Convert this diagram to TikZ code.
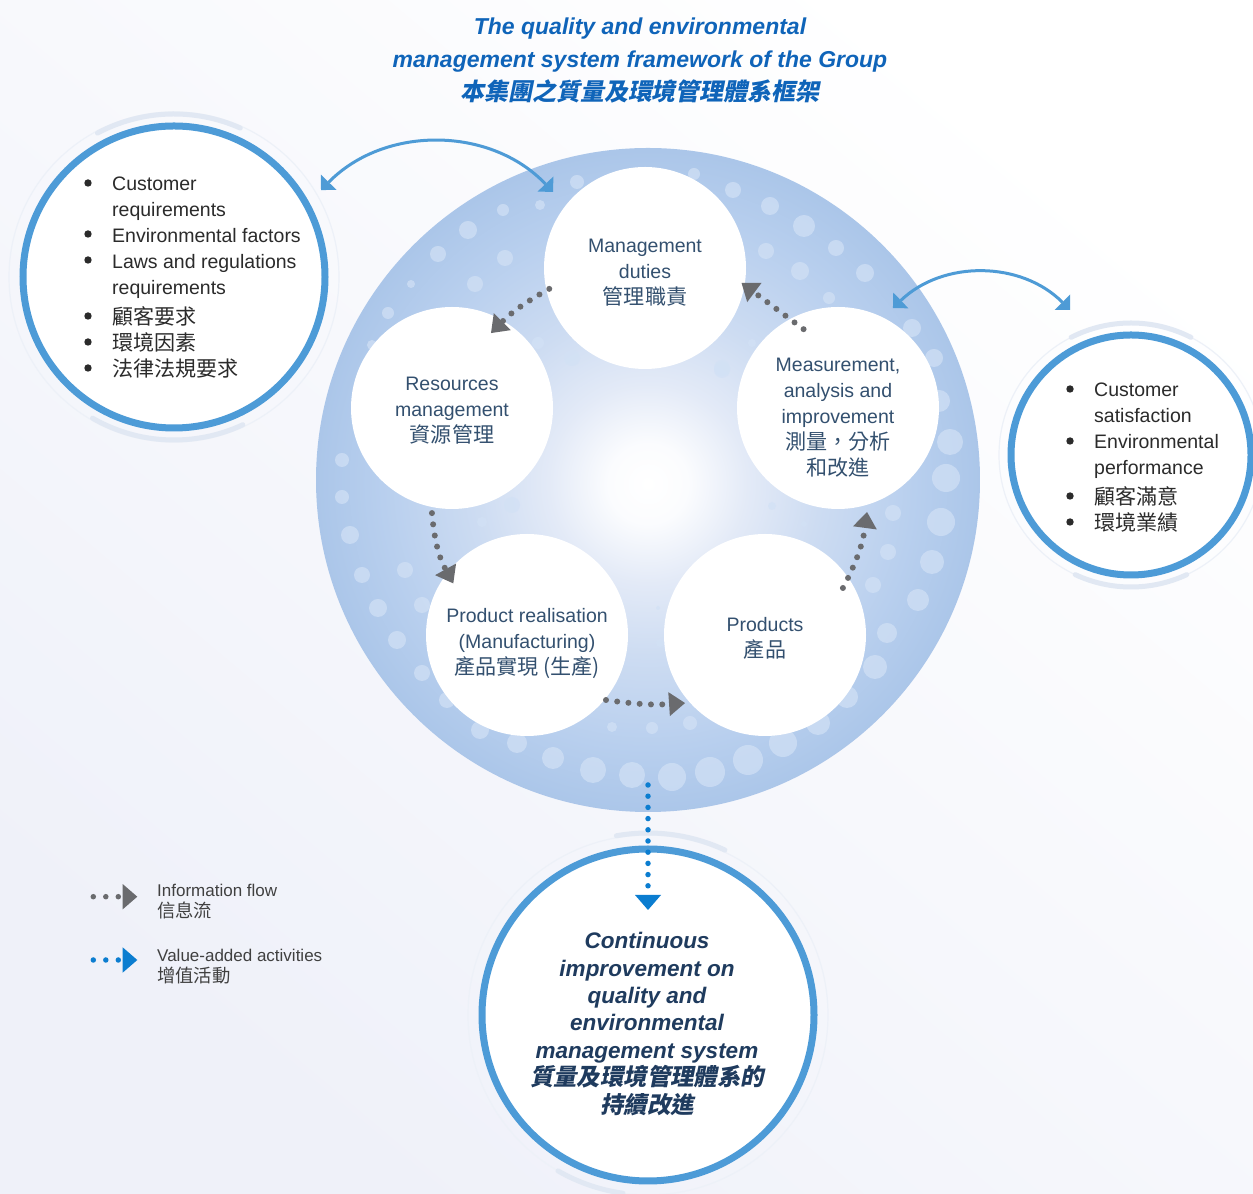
\documentclass[tikz,border=0pt]{standalone}
\usepackage{fontspec}
\setmainfont{Liberation Sans}
\newfontfamily\cjk[Scale=1.08]{Noto Sans CJK TC}
\newfontfamily\cjkbi[Scale=1.04,FakeSlant=0.2]{Noto Sans CJK TC}
\usetikzlibrary{arrows.meta,calc}
\definecolor{ringc}{HTML}{4D9BD7}
\definecolor{arcc}{HTML}{4E9BD6}
\definecolor{grayarrow}{HTML}{6A6B6E}
\definecolor{bluearrow}{HTML}{0B7DD0}
\definecolor{labelc}{HTML}{33506F}
\definecolor{titlec}{HTML}{0F64B9}
\definecolor{navy}{HTML}{1F3B5E}
\definecolor{listc}{HTML}{2B2B2B}
\definecolor{legc}{HTML}{404040}
\definecolor{faintc}{HTML}{E1E8F3}
\definecolor{bubc}{HTML}{D2E1F5}
\definecolor{sh1}{HTML}{FBFCFE}
\definecolor{sh2}{HTML}{E3EAF7}
\definecolor{sh3}{HTML}{CDDCF2}
\definecolor{sh4}{HTML}{B8CFEE}
\definecolor{sh5}{HTML}{ABC6E9}
\definecolor{bgc}{HTML}{EFF1F9}
\pgfdeclareradialshading{bigring}{\pgfpoint{0bp}{-0.3bp}}{color(0bp)=(white); color(3bp)=(sh1); color(7.5bp)=(sh2); color(13bp)=(sh3); color(20bp)=(sh4); color(25bp)=(sh5); color(50bp)=(sh5)}
\newcommand\zh[1]{{\cjk #1}}
\newcommand\zhbi[1]{{\upshape\cjkbi #1}}
\begin{document}
\begin{tikzpicture}[x=1pt,y=1pt,
  innerc/.style={circle, fill=white, minimum size=202pt, inner sep=0pt},
  labeltext/.style={align=center, inner sep=0pt, text=labelc, font=\fontsize{19.5}{26}\selectfont},
  outring/.style={circle, draw=ringc, line width=7pt, fill=white, inner sep=0pt},
  faintarc/.style={draw=faintc, line width=5pt, line cap=round},
  faintline/.style={draw=faintc!60!white, line width=1.2pt},
  bubble/.style={fill=bubc, fill opacity=0.7},
  bulletdot/.style={fill=listc},
  infoflow/.style={draw=grayarrow, line width=6pt, line cap=round, dash pattern=on 0pt off 11.3pt, -{Triangle[length=16pt,width=24pt,line width=0pt]}},
  valueflow/.style={draw=bluearrow, line width=5.5pt, line cap=round, dash pattern=on 0pt off 11.2pt, -{Triangle[length=15pt,width=26pt,line width=0pt]}},
  dbl/.style={draw=arcc, line width=3pt, {Triangle[angle=90:15.5pt,line width=0pt]}-{Triangle[angle=90:15.5pt,line width=0pt]}},
  listtext/.style={anchor=west, inner sep=0pt, text=listc, font=\fontsize{19.5}{26}\selectfont},
  legtext/.style={anchor=west, inner sep=0pt, align=left, text=legc, font=\fontsize{17}{21}\selectfont}
]
\useasboundingbox (0,0) rectangle (1253,1194);
\shade[top color=white, bottom color=bgc, shading angle=-40] (0,0) rectangle (1253,1194);

% big circle
\node[circle, minimum size=664pt, inner sep=0pt, shade, shading=bigring] (bc) at (648,714) {};
\begin{scope}[shift={(0,1194)}, yscale=-1]
\foreach \bx/\by/\br in {577/182/7, 540/205/5, 503/210/6, 468/230/9, 438/254/8, 505/258/8, 475/284/8, 411/284/4, 388/313/6, 372/345/5, 572/358/8, 694/174/6, 733/190/8, 770/206/9, 804/226/11, 836/248/8, 800/271/9, 766/251/8, 865/273/9, 829/298/6, 752/343/4, 722/370/8, 912/328/9, 934/358/9, 939/401/11, 950/442/13, 946/478/14, 941/522/14, 932/562/12, 918/600/11, 893/513/8, 888/552/8, 873/585/8, 887/633/10, 875/667/12, 847/697/11, 818/723/12, 783/743/14, 748/760/15, 710/772/15, 672/777/14, 632/775/13, 593/770/13, 553/758/11, 517/743/10, 480/730/9, 447/700/8, 422/673/8, 397/640/9, 422/605/8, 405/570/8, 378/608/9, 362/575/8, 350/535/9, 342/497/7, 342/460/7, 612/727/5, 652/728/6, 690/723/7, 772/506/4, 804/524/3, 658/608/2, 660/643/4, 482/522/5, 512/505/8, 538/343/6, 722/368/8}
  \fill[bubble] (\bx,\by) circle (\br);
\end{scope}

% inner circles
\node[innerc] (md) at (645,926) {};
\node[innerc] (rm) at (452,786) {};
\node[innerc] (ms) at (838,786) {};
\node[innerc] (pr) at (527,559) {};
\node[innerc] (pd) at (765,559) {};
\node[labeltext] (mdt) at ($(md.center)+(0,-5)$) {Management\\duties\\\zh{管理職責}};
\node[labeltext] (rmt) at ($(rm.center)+(0,-3)$) {Resources\\management\\\zh{資源管理}};
\node[labeltext] (mst) at ($(ms.center)+(0,-10)$) {Measurement,\\analysis and\\improvement\\\zh{測量，分析}\\\zh{和改進}};
\node[labeltext] (prt) at ($(pr.center)+(0,-9)$) {Product realisation\\(Manufacturing)\\\zh{產品實現 (生產)}};
\node[labeltext] (pdt) at ($(pd.center)+(0,-3.5)$) {Products\\\zh{產品}};

% outer circles with faint halos
\node[outring, minimum size=302pt] (lc) at (174,917) {};
\node[outring, minimum size=240pt] (rc) at (1131,739) {};
\node[outring, minimum size=332pt] (cc) at (648,179) {};
\draw[faintline] (lc.center) circle (165);
\draw[faintarc] ($(lc.center)+(66:163)$) arc[start angle=66, end angle=118, radius=163];
\draw[faintarc] ($(lc.center)+(240:163)$) arc[start angle=240, end angle=295, radius=163];
\draw[faintline] (rc.center) circle (132);
\draw[faintarc] ($(rc.center)+(63:132)$) arc[start angle=63, end angle=117, radius=132];
\draw[faintarc] ($(rc.center)+(245:132)$) arc[start angle=245, end angle=295, radius=132];
\draw[faintline] (cc.center) circle (180);
\draw[faintarc] ($(cc.center)+(65:182)$) arc[start angle=65, end angle=100, radius=182];
\draw[faintarc] ($(cc.center)+(240:180)$) arc[start angle=240, end angle=262, radius=180];

% information flow arrows
\draw[infoflow] ($(md.center)+(192.3:98)$) to[bend right=8] ($(rm.center)+(62.5:84.5)$);
\draw[infoflow] ($(rm.center)+(259.2:107)$) to[bend right=12] ($(pr.center)+(145:90)$);
\draw[infoflow] ($(pr.center)+(-39.45:102.3)$) to[bend right=6] ($(pd.center)+(220.4:105)$);
\draw[infoflow] ($(pd.center)+(31.1:91)$) to[bend right=10] ($(ms.center)+(-74.4:108)$);
\draw[infoflow] ($(ms.center)+(113.6:86)$) -- ($(md.center)+(-8.8:97.7)$);

% value-added flow
\draw[valueflow] ($(bc.center)+(0,-305)$) -- ($(cc.center)+(0,105)$);

% double arrows
\draw[dbl] ($(lc.center)+(30.6:170.8)$) to[bend left=46] ($(bc.center)+(108.25:303.3)$);
\draw[dbl] ($(bc.center)+(35.07:299.3)$) to[bend left=44.5] ($(rc.center)+(112.8:157.3)$);

% title
\node[align=center, text=titlec, font=\fontsize{23}{33}\selectfont\bfseries\itshape] (title) at (640,1133.5)
  {The quality and environmental\\management system framework of the Group\\\zhbi{本集團之質量及環境管理體系框架}};

% lists
\node[listtext] (llist) at (112,916) {\begin{tabular}{@{}l@{}}
Customer\\
requirements\\
Environmental factors\\
Laws and regulations\\
requirements\\[4pt]
\zh{顧客要求}\\
\zh{環境因素}\\
\zh{法律法規要求}
\end{tabular}};
\foreach \by in {1011,960,934,878,852,826} \fill[bulletdot] (88,\by) circle (3.7);
\node[listtext] (rlist) at (1094,736) {\begin{tabular}{@{}l@{}}
Customer\\
satisfaction\\
Environmental\\
performance\\[4pt]
\zh{顧客滿意}\\
\zh{環境業績}
\end{tabular}};
\foreach \by in {805,753,698,672} \fill[bulletdot] (1070,\by) circle (3.7);

% bottom circle text
\node[align=center, text=navy, font=\fontsize{22.5}{27.4}\selectfont\bfseries\itshape] (ct) at (647,170)
  {Continuous\\improvement on\\quality and\\environmental\\management system\\\zhbi{質量及環境管理體系的}\\\zhbi{持續改進}};

% legend
\coordinate (la) at (93.3,297.3);
\coordinate (lb) at (137.3,297.3);
\draw[infoflow, line width=5.5pt, dash pattern=on 0pt off 12.5pt, -{Triangle[length=14.6pt,width=25.3pt,line width=0pt]}] (la) -- (lb);
\coordinate (lc1) at (93.3,234);
\coordinate (lc2) at (137.3,234);
\draw[valueflow, dash pattern=on 0pt off 12.5pt, -{Triangle[length=14.6pt,width=25.3pt,line width=0pt]}] (lc1) -- (lc2);
\node[legtext] (leg1) at (157,292.5) {Information flow\\\zh{信息流}};
\node[legtext] (leg2) at (157,227.5) {Value-added activities\\\zh{增值活動}};
\end{tikzpicture}
\end{document}
